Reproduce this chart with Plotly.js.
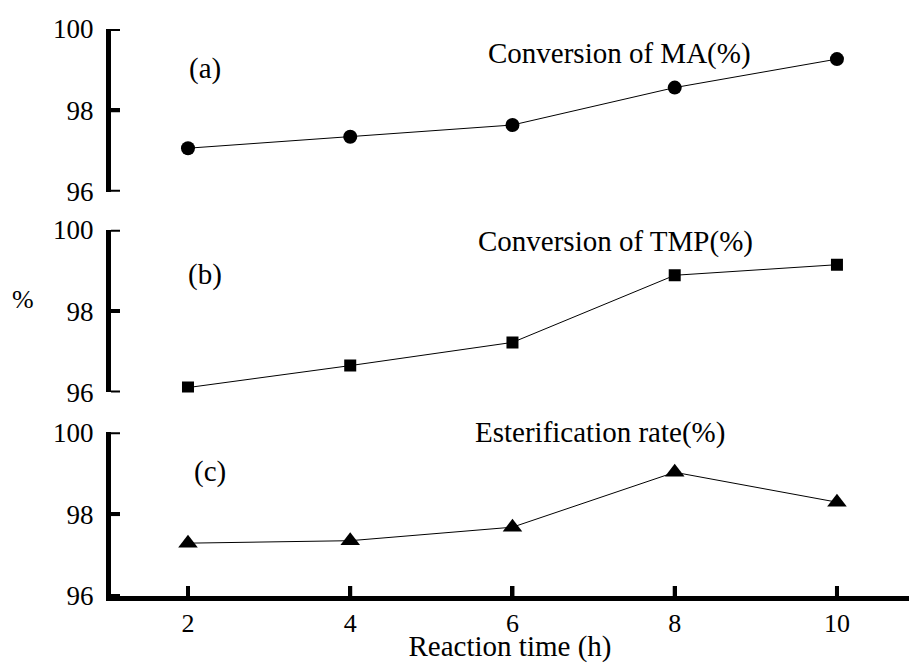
<!DOCTYPE html>
<html>
<head>
<meta charset="utf-8">
<script src="https://cdn.plot.ly/plotly-3.0.1.min.js"></script>
<style>html,body{margin:0;padding:0;background:#fff;}#chart{width:909px;height:663px;}</style>
</head>
<body>
<div id="chart"></div>
<script>
const reactionTime = [2, 4, 6, 8, 10];
const conversionMA = [97.07, 97.35, 97.64, 98.56, 99.26];
const conversionTMP = [96.12, 96.66, 97.23, 98.88, 99.14];
const esterificationRate = [97.29, 97.35, 97.68, 99.02, 98.29];
const xTicks = [2, 4, 6, 8, 10];
const yTicks = [96, 98, 100];

const font = 'Liberation Serif, Times New Roman, serif';
const lineStyle = {color: '#000', width: 1};

const traces = [
  {x: reactionTime, y: conversionMA, yaxis: 'y', xaxis: 'x', mode: 'lines+markers',
   line: lineStyle, marker: {symbol: 'circle', size: 14, color: '#000'}},
  {x: reactionTime, y: conversionTMP, yaxis: 'y2', xaxis: 'x', mode: 'lines+markers',
   line: lineStyle, marker: {symbol: 'square', size: 12, color: '#000'}},
  {x: reactionTime, y: esterificationRate, yaxis: 'y3', xaxis: 'x', mode: 'lines+markers',
   line: lineStyle, marker: {symbol: 'triangle-up', size: 17, color: '#000'}}
];

const yRange = [96, 100];
const xRange = [1.051, 10.888];

function yax(domain) {
  return {
    domain: domain, range: yRange, tickmode: 'array', tickvals: yTicks, ticktext: yTicks.map(String),
    showline: true, linewidth: 5, linecolor: '#000', ticks: 'inside', ticklen: 9, tickwidth: 4,
    tickcolor: '#000', showgrid: false, zeroline: false, layer: 'above traces',
    anchor: 'x', tickfont: {family: font, size: 27, color: '#000'}, ticklabelstandoff: 7
  };
}

// inward-pointing tick marks at the axes' own tick values (drawn on top)
const tickShapes = [];
['y', 'y2', 'y3'].forEach(ax => {
  yTicks.forEach(v => tickShapes.push({
    type: 'line', layer: 'above', xref: 'paper', xsizemode: 'pixel', xanchor: 0, x0: 0, x1: 9,
    yref: ax, y0: v, y1: v, line: {color: '#000', width: 4}
  }));
});
xTicks.forEach(v => tickShapes.push({
  type: 'line', layer: 'above', yref: 'paper', ysizemode: 'pixel', yanchor: 0, y0: 0, y1: 10,
  xref: 'x', x0: v, x1: v, line: {color: '#000', width: 4}
}));

const ann = (text, x, y, xref, yref, size) => ({text, x, y, xref, yref, showarrow: false,
  font: {family: font, size: size || 29, color: '#000'}, xanchor: 'center', yanchor: 'middle'});

const layout = {
  width: 909, height: 663,
  margin: {l: 111, r: 0, t: 29, b: 67},
  paper_bgcolor: '#fff', plot_bgcolor: 'rgba(0,0,0,0)',
  showlegend: false,
  font: {family: font, color: '#000'},
  xaxis: {
    range: xRange, tickmode: 'array', tickvals: xTicks, ticktext: xTicks.map(String),
    showline: true, linewidth: 5, linecolor: '#000', ticks: 'inside', ticklen: 10, tickwidth: 4,
    tickcolor: '#000', showgrid: false, zeroline: false, layer: 'above traces',
    anchor: 'y3', tickfont: {family: font, size: 26, color: '#000'},
    title: {text: 'Reaction time (h)', font: {family: font, size: 29, color: '#000'}, standoff: 4}
  },
  yaxis: yax([0.713, 1]),
  yaxis2: yax([0.359, 0.646]),
  yaxis3: yax([0, 0.289]),
  shapes: tickShapes,
  annotations: [
    ann('(a)', 2.21, 99.02, 'x', 'y'),
    ann('Conversion of MA(%)', 7.325, 99.41, 'x', 'y'),
    ann('(b)', 2.21, 98.9, 'x', 'y2'),
    ann('Conversion of TMP(%)', 7.276, 99.7, 'x', 'y2'),
    ann('(c)', 2.27, 99.05, 'x', 'y3'),
    ann('Esterification rate(%)', 7.08, 100.0, 'x', 'y3'),
    ann('%', -0.11, 0.523, 'paper', 'paper', 26)
  ]
};

Plotly.newPlot('chart', traces, layout, {displayModeBar: false, staticPlot: true});
</script>
</body>
</html>
